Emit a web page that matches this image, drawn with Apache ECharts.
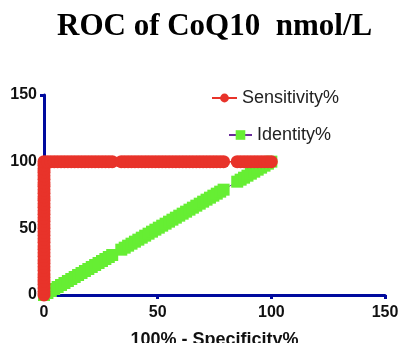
<!DOCTYPE html>
<html><head><meta charset="utf-8">
<script src="https://cdn.jsdelivr.net/npm/echarts@6/dist/echarts.min.js"></script>
<style>html,body{margin:0;padding:0;background:#fff}#c{width:399px;height:343px}</style>
</head><body><div id="c"></div>
<script>
// ROC points: x = 100% - Specificity%, y = Sensitivity%
var rocX = [0,0,0,0,0,0,0,0,0,0,0,0,0,0,0,0,0,0,0,0,0,0,0,0,0,0,0,0,0,0,0,0,0,0,0,0,0,0,0,
  1.5,3,4.5,6,7.5,9,10.5,12,13.5,15,16.5,18,19.5,21,22.5,24,25.5,27,28.5,30,
  34,35.5,37,38.5,40,41.5,43,44.5,46,47.5,49,50.5,52,53.5,55,56.5,58,59.5,61,62.5,64,65.5,67,68.5,70,71.5,73,74.5,76,77.5,79,
  85,86.5,88,89.5,91,92.5,94,95.5,97,98.5,100];
var rocY = [0,2.6,5.3,7.9,10.5,13.2,15.8,18.4,21.1,23.7,26.3,28.9,31.6,34.2,36.8,39.5,42.1,44.7,47.4,50,52.6,55.3,57.9,60.5,63.2,65.8,68.4,71.1,73.7,76.3,78.9,81.6,84.2,86.8,89.5,92.1,94.7,97.4,100,
  100,100,100,100,100,100,100,100,100,100,100,100,100,100,100,100,100,100,100,100,
  100,100,100,100,100,100,100,100,100,100,100,100,100,100,100,100,100,100,100,100,100,100,100,100,100,100,100,100,100,100,100,
  100,100,100,100,100,100,100,100,100,100,100];
// Identity line points (x = y at each 100% - Specificity value)
var identityX = rocX;
var identityY = rocX;
var axisTicks = [0, 50, 100, 150];

var sensData = rocX.map(function(x, i){ return [x, rocY[i]]; });
var idData = identityX.map(function(x, i){ return [x, identityY[i]]; });

var chart = echarts.init(document.getElementById('c'), null, {renderer:'canvas'});
var axisCommon = {
  type:'value', min:axisTicks[0], max:axisTicks[axisTicks.length-1], interval:50,
  axisLine:{show:true, lineStyle:{color:'#000a9e', width:3}},
  axisTick:{show:true, length:4, lineStyle:{color:'#000a9e', width:3}},
  splitLine:{show:false},
  axisLabel:{color:'#111', fontSize:16, fontWeight:'bold', fontFamily:'Liberation Sans, Arial'}
};
chart.setOption({
  animation:false,
  backgroundColor:'#fff',
  title:{text:'ROC of CoQ10  nmol/L', left:52, top:6,
    textStyle:{fontFamily:'Liberation Serif, Times New Roman, serif', fontWeight:'bold', fontSize:31, color:'#000'}},
  grid:{left:44, right:14, top:95, bottom:48, containLabel:false, outerBoundsMode:'none'},
  legend:[
    {data:['Sensitivity%'], left:206, top:84, itemWidth:25, itemHeight:11, itemGap:12,
     textStyle:{fontSize:18, color:'#222', fontFamily:'Liberation Sans, Arial'}},
    {data:['Identity%'], left:223, top:121, itemWidth:23, itemHeight:12, itemGap:16,
     textStyle:{fontSize:18, color:'#222', fontFamily:'Liberation Sans, Arial'}}
  ],
  xAxis:Object.assign({}, axisCommon, {
    name:'100% - Specificity%', nameLocation:'middle', nameGap:36,
    nameTextStyle:{color:'#111', fontSize:18, fontWeight:'bold', fontFamily:'Liberation Sans, Arial'},
    axisLabel:Object.assign({}, axisCommon.axisLabel, {margin:10})
  }),
  yAxis:Object.assign({}, axisCommon, {
    axisLabel:Object.assign({}, axisCommon.axisLabel, {margin:7})
  }),
  series:[
    {name:'Identity%', type:'line', data:idData, symbol:'rect', symbolSize:12,
     itemStyle:{color:'#66ee33'}, lineStyle:{color:'#6a2b9a', width:1}, z:2},
    {name:'Sensitivity%', type:'line', data:sensData, symbol:'circle', symbolSize:13,
     itemStyle:{color:'#e8332a'}, lineStyle:{color:'#e8332a', width:1.5}, z:3}
  ]
});
</script></body></html>
